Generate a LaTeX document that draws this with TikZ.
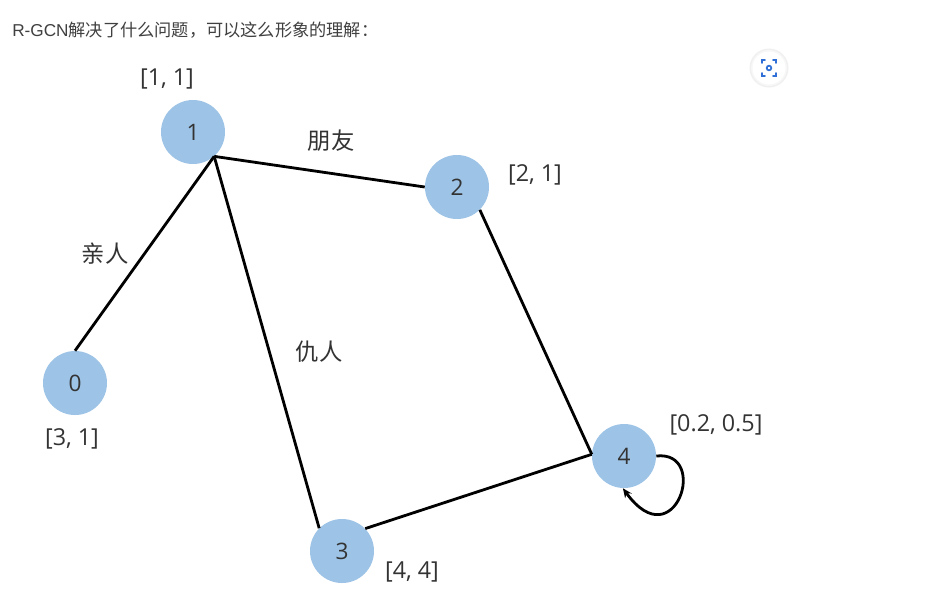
\documentclass[tikz,border=0pt]{standalone}
\usepackage{fontspec}
\setmainfont{Noto Sans CJK SC}
\newfontfamily\latfont{Open Sans}
\newfontfamily\arialfont{Liberation Sans}
\usetikzlibrary{arrows.meta}
\definecolor{nodeblue}{HTML}{9DC3E6}
\definecolor{txtgray}{HTML}{333333}
\definecolor{hdrgray}{HTML}{404040}
\definecolor{iconblue}{HTML}{2F6FD6}
\tikzset{
  vert/.style={circle, fill=nodeblue, minimum size=48pt, inner sep=0pt, text=txtgray, font=\latfont\fontsize{17pt}{19pt}\selectfont},
  lbl/.style={text=txtgray, inner sep=0pt, font=\latfont\fontsize{17.5pt}{19pt}\selectfont},
  rel/.style={text=txtgray, inner sep=0pt, font=\fontsize{17.5pt}{19pt}\selectfont},
  edge/.style={line width=2.1pt, black},
}
\begin{document}
\begin{tikzpicture}[x=0.75pt, y=-0.75pt]
\useasboundingbox (0,0) rectangle (948,601);
\fill[white] (0,0) rectangle (948,601);
% header
\node[anchor=west, inner sep=0pt, text=hdrgray, font=\fontsize{12.9pt}{14pt}\selectfont] (hdr) at (12,30) {{\arialfont R-GCN}解决了什么问题，可以这么形象的理解：};
% icon
\fill[black!6] (769,68) circle[radius=19.5];
\fill[black!3] (769,68) circle[radius=18];
\fill[white] (769,68) circle[radius=16.5];
\begin{scope}[draw=iconblue, line width=1.3pt, line cap=round]
\draw (762,63) -- (762,60) -- (765,60);
\draw (773,60) -- (776,60) -- (776,63);
\draw (776,73) -- (776,76) -- (773,76);
\draw (765,76) -- (762,76) -- (762,73);
\draw (769,68) circle[radius=2.3];
\end{scope}
% nodes
\node[vert] (n1) at (193,132) {1};
\node[vert] (n2) at (457,187) {2};
\node[vert] (n0) at (75,383) {0};
\node[vert] (n4) at (624,456) {4};
\node[vert] (n3) at (342,551) {3};
% labels
\node[lbl] (l1) at (167,79) {[1, 1]};
\node[lbl] (l2) at (535,175) {[2, 1]};
\node[lbl] (l0) at (72,439) {[3, 1]};
\node[lbl] (l4) at (716,425) {[0.2, 0.5]};
\node[lbl] (l3) at (412,572) {[4, 4]};
\node[rel] (r12) at (331,141) {朋友};
\node[rel] (r10) at (105,254) {亲人};
\node[rel] (r13) at (319,352) {仇人};
% edges
\coordinate (p1) at (n1.-49);
\coordinate (p4) at (n4.177);
\draw[edge] (p1) -- (n2.180);
\draw[edge] (p1) -- (n0.90);
\draw[edge] (p1) -- (n3.135);
\draw[edge] (n2.-45) -- (p4);
\draw[edge] (n3.44) -- (p4);
\draw[edge, -{Stealth[length=7pt, width=6pt]}] (n4.east) .. controls (710,450) and (675,560) .. (n4.-92);
\end{tikzpicture}
\end{document}
